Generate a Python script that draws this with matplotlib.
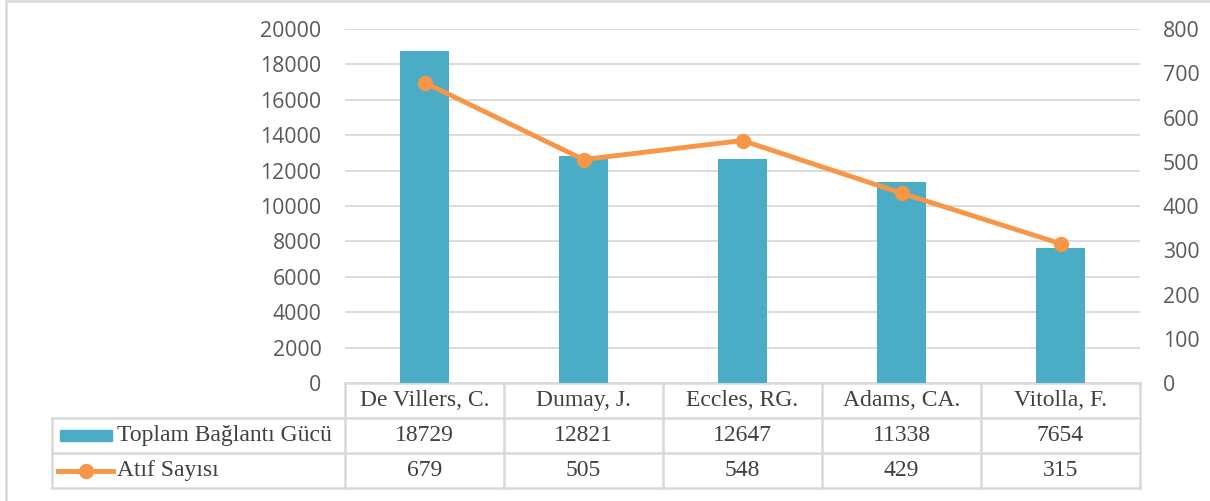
import numpy as np
import matplotlib
matplotlib.use("Agg")
import matplotlib.pyplot as plt
from matplotlib.patches import Rectangle

# data
authors = ["De Villers, C.", "Dumay, J.", "Eccles, RG.", "Adams, CA.", "Vitolla, F."]
link_strength = [18729, 12821, 12647, 11338, 7654]
citations = [679, 505, 548, 429, 315]
bar_label = "Toplam Bağlantı Gücü"
line_label = "Atıf Sayısı"

teal = "#4BACC6"
orange = "#F79646"
grid_c = "#D9D9D9"
txt_c = "#595959"

W, H = 1210, 501
fig = plt.figure(figsize=(W / 100, H / 100), dpi=100)

# overlay in pixel coords for border and data table
ov = fig.add_axes([0, 0, 1, 1])
ov.set_xlim(0, W)
ov.set_ylim(H, 0)
ov.axis("off")
ov.plot([6, 6, W], [H, 0.8, 0.8], color=grid_c, lw=1.8)

left, right, top, bottom = 345, 1140, 29, 383
ax = fig.add_axes([left / W, (H - bottom) / H, (right - left) / W, (bottom - top) / H])
x = np.arange(len(authors))
ax.bar(x, link_strength, width=0.31, color=teal, zorder=2)
ax.set_xlim(-0.5, len(authors) - 0.5)
ax.set_ylim(0, 20000)
ax.set_yticks(range(0, 20001, 2000))
ax.set_xticks([])
ax.grid(axis="y", color=grid_c, lw=1.3, zorder=0)
for s in ax.spines.values():
    s.set_visible(False)
ax.tick_params(axis="y", length=0, pad=17, labelsize=15.3, labelcolor=txt_c)
for t in ax.get_yticklabels():
    t.set_fontfamily("Open Sans")

ax2 = ax.twinx()
ax2.plot(x, citations, color=orange, lw=3.5, marker="o", ms=10, zorder=3)
ax2.set_ylim(0, 800)
ax2.set_yticks(range(0, 801, 100))
for s in ax2.spines.values():
    s.set_visible(False)
ax2.tick_params(axis="y", length=0, pad=16.5, labelsize=15.3, labelcolor=txt_c)
for t in ax2.get_yticklabels():
    t.set_fontfamily("Open Sans")
ax2.set_zorder(ax.get_zorder() + 1)
ax2.patch.set_visible(False)

# data table
rows = [383, 418, 453, 488]
hdr_left = 52
tw = 1.8
ov.plot([left, right], [rows[0], rows[0]], color=grid_c, lw=tw)
for y in rows[1:]:
    ov.plot([hdr_left, right], [y, y], color=grid_c, lw=tw)
ov.plot([hdr_left, hdr_left], [rows[1], rows[3]], color=grid_c, lw=tw)
col_w = (right - left) / len(authors)
for i in range(len(authors) + 1):
    xx = left + i * col_w
    ov.plot([xx, xx], [rows[0], rows[3]], color=grid_c, lw=tw)

tkw = dict(fontfamily="Liberation Serif", fontsize=17, color="#404040", ha="center", va="center")
for i, name in enumerate(authors):
    cx = left + (i + 0.5) * col_w
    ov.text(cx, (rows[0] + rows[1]) / 2, name, **tkw)
    ov.text(cx, (rows[1] + rows[2]) / 2, str(link_strength[i]), **tkw)
    ov.text(cx, (rows[2] + rows[3]) / 2, str(citations[i]), **tkw)

# legend keys
y1 = (rows[1] + rows[2]) / 2
y2 = (rows[2] + rows[3]) / 2
ov.add_patch(Rectangle((60, y1 - 5.5), 52, 11, color=teal))
ov.plot([58, 113], [y2, y2], color=orange, lw=3.5)
ov.plot([85.5], [y2], marker="o", ms=10, color=orange)
lkw = dict(fontfamily="Liberation Serif", fontsize=17, color="#404040", ha="left", va="center")
ov.text(117, y1, bar_label, **lkw)
ov.text(117, y2, line_label, **lkw)

fig.savefig("out.png", dpi=100)
